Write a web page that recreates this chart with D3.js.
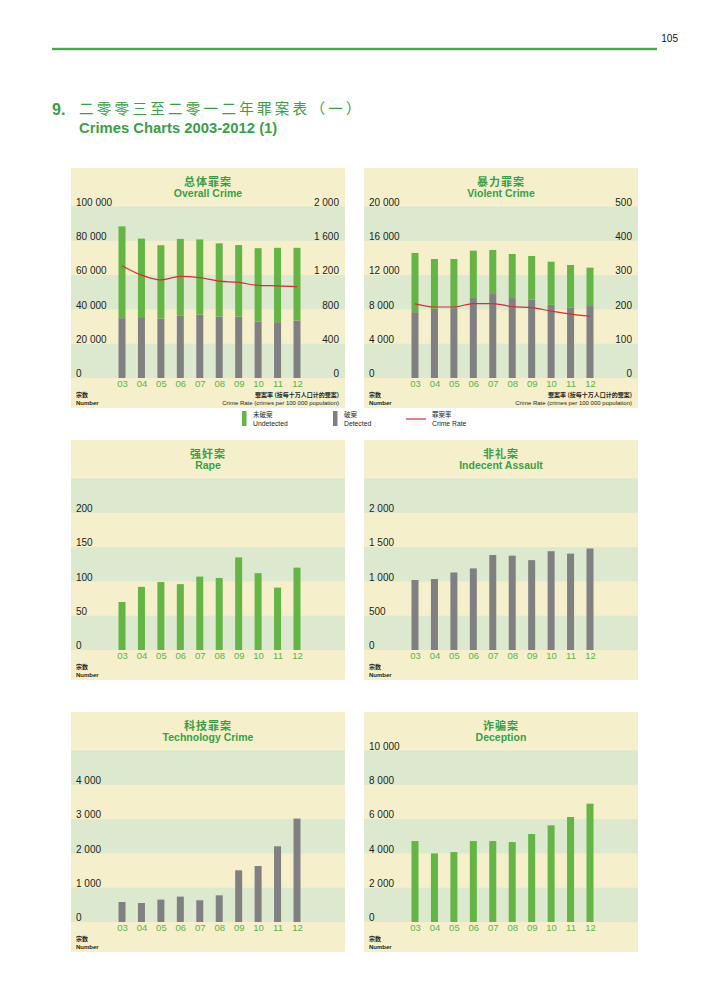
<!DOCTYPE html>
<html><head><meta charset="utf-8">
<script src="https://cdn.jsdelivr.net/npm/d3@7"></script>
<style>body{margin:0;background:#fff} svg{display:block}</style>
</head><body>
<svg id="c" width="708" height="1000"></svg>
<script>
// ---------- data ----------
const years = ["03","04","05","06","07","08","09","10","11","12"];
const overallDetected   = [34900,35500,34700,36250,37000,35850,35850,32950,32550,33530];
const overallUndetected = [53500,45800,42700,44850,43800,42650,41650,42750,43350,42370];
const overallRate       = [1310,1200,1145,1185,1170,1130,1115,1080,1075,1065];
const violentDetected   = [7680,8070,8150,9320,9790,9320,9160,8540,8230,8390];
const violentUndetected = [6900,5810,5730,5530,5140,5140,5070,5030,4950,4480];
const violentRate       = [216,207,207,217,217,208,205,195,186,180];
const rape              = [70,92,99,96,107,105,135,112,91,120];
const indecentAssault   = [1020,1035,1130,1190,1385,1375,1310,1440,1405,1480];
const technologyCrime   = [583,554,653,740,633,778,1507,1633,2207,3015];
const deception         = [4720,4000,4076,4720,4720,4660,5130,5637,6123,6900];
const overallTicksL = [0,20000,40000,60000,80000,100000];
const overallTicksR = [0,400,800,1200,1600,2000];
const violentTicksL = [0,4000,8000,12000,16000,20000];
const violentTicksR = [0,100,200,300,400,500];
const rapeTicks = [0,50,100,150,200];
const indecentTicks = [0,500,1000,1500,2000];
const techTicks = [0,1000,2000,3000,4000];
const deceptionTicks = [0,2000,4000,6000,8000,10000];

// ---------- style ----------
const C = {cream:"#f5efcc", band:"#dce9cf", green:"#64b446", gray:"#808083", red:"#d42f36",
           title:"#3a9f48", xlab:"#5cb24a", text:"#231f20", rule:"#4aa84c"};
const FONT = "'Liberation Sans', Arial, Helvetica, sans-serif";
const CJK = "'Noto Sans CJK SC', 'Noto Sans CJK TC', sans-serif";
const PW = 274, PH = 240, PT = 38.5, PB = 210;
const fmt = d3.formatLocale({thousands:" ", grouping:[3], decimal:".", currency:["",""]}).format(",d");

const svg = d3.select("#c");

// ---------- header ----------
svg.append("text").attr("x",678).attr("y",42).attr("text-anchor","end")
  .attr("font-family","'Liberation Sans Narrow', "+FONT).attr("font-size",10).attr("fill","#111").text("105");
svg.append("rect").attr("x",52).attr("y",47.8).attr("width",605).attr("height",2.4).attr("fill",C.rule);
svg.append("text").attr("x",52).attr("y",115).attr("font-family",FONT).attr("font-weight","bold")
  .attr("font-size",16).attr("fill",C.title).text("9.");
svg.append("text").attr("x",79).attr("y",113.5).attr("font-family",CJK).attr("font-size",14.5)
  .attr("letter-spacing",3.3).attr("fill",C.title).text("二零零三至二零一二年罪案表（一）");
svg.append("text").attr("x",79).attr("y",133).attr("font-family",FONT).attr("font-weight","bold")
  .attr("font-size",14.8).attr("fill",C.title).text("Crimes Charts 2003-2012 (1)");

// ---------- panel builder ----------
function panel(px, py, cfg){
  const g = svg.append("g").attr("transform",`translate(${px},${py})`);
  g.append("rect").attr("width",PW).attr("height",PH).attr("fill",C.cream);
  const y = d3.scaleLinear().domain([0,cfg.max]).range([PB,PT]);
  const step = cfg.max/5;
  g.selectAll("rect.band").data([0,2,4].map(i=>i*step)).join("rect").attr("class","band")
    .attr("x",0).attr("width",PW).attr("y",d=>y(d+step)).attr("height",d=>y(d)-y(d+step)).attr("fill",C.band);

  // titles
  g.append("text").attr("x",PW/2).attr("y",18).attr("text-anchor","middle").attr("font-family",CJK)
    .attr("font-weight","bold").attr("font-size",11).attr("letter-spacing",1).attr("fill",C.title).text(cfg.zh);
  g.append("text").attr("x",PW/2).attr("y",29).attr("text-anchor","middle").attr("font-family",FONT)
    .attr("font-weight","bold").attr("font-size",10.5).attr("fill",C.title).text(cfg.en);

  const x = d3.scalePoint().domain(years).range([51,226]);
  const bw = 7;

  // left axis
  const la = g.append("g").attr("transform","translate(5,0)")
    .call(d3.axisRight(y).tickValues(cfg.ticks).tickSize(0).tickPadding(0).tickFormat(fmt));
  la.select(".domain").remove();
  la.attr("font-family",FONT).attr("font-size",10);
  la.selectAll("text").attr("dy",-1.2).attr("fill",C.text);

  if (cfg.maxR){
    const yr = d3.scaleLinear().domain([0,cfg.maxR]).range([PB,PT]);
    const ra = g.append("g").attr("transform",`translate(${PW-6},0)`)
      .call(d3.axisLeft(yr).tickValues(cfg.ticksR).tickSize(0).tickPadding(0).tickFormat(fmt));
    ra.select(".domain").remove();
    ra.attr("font-family",FONT).attr("font-size",10);
    ra.selectAll("text").attr("dy",-1.2).attr("fill",C.text);
    cfg.yr = yr;
  }

  // x axis
  const xa = g.append("g").attr("transform",`translate(0,${PB})`)
    .call(d3.axisBottom(x).tickSize(0).tickPadding(0));
  xa.select(".domain").remove();
  xa.attr("font-family",FONT).attr("font-size",9.5);
  xa.selectAll("text").attr("y",9).attr("dy",0).attr("fill",C.xlab);

  // bars
  if (cfg.stack){
    const rows = years.map((yy,i)=>({year:yy, det:cfg.stack[0][i], und:cfg.stack[1][i]}));
    const series = d3.stack().keys(["det","und"])(rows);
    const col = {det:C.gray, und:C.green};
    g.selectAll("g.s").data(series).join("g").attr("fill",s=>col[s.key])
      .selectAll("rect").data(s=>s).join("rect")
      .attr("x",d=>x(d.data.year)-bw/2).attr("width",bw)
      .attr("y",d=>y(d[1])).attr("height",d=>y(d[0])-y(d[1]));
  } else {
    g.selectAll("rect.bar").data(cfg.values).join("rect").attr("class","bar")
      .attr("x",(d,i)=>x(years[i])-bw/2).attr("width",bw)
      .attr("y",d=>y(d)).attr("height",d=>PB-y(d)).attr("fill",cfg.color);
  }
  if (cfg.rate){
    const line = d3.line().x((d,i)=>x(years[i])).y(d=>cfg.yr(d)).curve(d3.curveMonotoneX);
    g.append("path").datum(cfg.rate).attr("d",line).attr("fill","none")
      .attr("stroke",C.red).attr("stroke-width",1.2);
  }

  // footers
  g.append("text").attr("x",5).attr("y",PB+19).attr("font-family",CJK).attr("font-size",6)
    .attr("font-weight","bold").attr("fill",C.text).text("宗数");
  g.append("text").attr("x",5).attr("y",PB+26.5).attr("font-family",FONT).attr("font-size",6)
    .attr("font-weight","bold").attr("fill",C.text).text("Number");
  if (cfg.maxR){
    g.append("text").attr("x",PW-6).attr("y",PB+19).attr("text-anchor","end").attr("font-family",CJK)
      .attr("font-size",6).attr("font-weight","bold").attr("fill",C.text).text("罪案率 (按每十万人口计的罪案)");
    g.append("text").attr("x",PW-6).attr("y",PB+26.5).attr("text-anchor","end").attr("font-family",FONT)
      .attr("font-size",6).attr("fill",C.text).text("Crime Rate (crimes per 100 000 population)");
  }
}

const LX = 71, RX = 364;
panel(LX,168,{zh:"总体罪案",en:"Overall Crime",max:100000,ticks:overallTicksL,maxR:2000,ticksR:overallTicksR,
  stack:[overallDetected,overallUndetected],rate:overallRate});
panel(RX,168,{zh:"暴力罪案",en:"Violent Crime",max:20000,ticks:violentTicksL,maxR:500,ticksR:violentTicksR,
  stack:[violentDetected,violentUndetected],rate:violentRate});
panel(LX,440,{zh:"强奸案",en:"Rape",max:250,ticks:rapeTicks,values:rape,color:C.green});
panel(RX,440,{zh:"非礼案",en:"Indecent Assault",max:2500,ticks:indecentTicks,values:indecentAssault,color:C.gray});
panel(LX,712,{zh:"科技罪案",en:"Technology Crime",max:5000,ticks:techTicks,values:technologyCrime,color:C.gray});
panel(RX,712,{zh:"诈骗案",en:"Deception",max:10000,ticks:deceptionTicks,values:deception,color:C.green});

// ---------- legend ----------
const legend = [
  {zh:"未破案", en:"Undetected", type:"bar", color:C.green, x:242},
  {zh:"破案", en:"Detected", type:"bar", color:C.gray, x:333},
  {zh:"罪案率", en:"Crime Rate", type:"line", color:C.red, x:406}
];
const lg = svg.append("g");
legend.forEach(d=>{
  if (d.type==="bar") lg.append("rect").attr("x",d.x).attr("y",411).attr("width",4.5).attr("height",15).attr("fill",d.color);
  else lg.append("line").attr("x1",d.x).attr("x2",d.x+20).attr("y1",419).attr("y2",419).attr("stroke",d.color).attr("stroke-width",1.2);
  const tx = d.type==="bar" ? d.x+11 : d.x+26;
  lg.append("text").attr("x",tx).attr("y",416.5).attr("font-family",CJK).attr("font-size",6.5).attr("fill",C.text).text(d.zh);
  lg.append("text").attr("x",tx).attr("y",425.5).attr("font-family",FONT).attr("font-size",6.8).attr("fill",C.text).text(d.en);
});
</script>
</body></html>
